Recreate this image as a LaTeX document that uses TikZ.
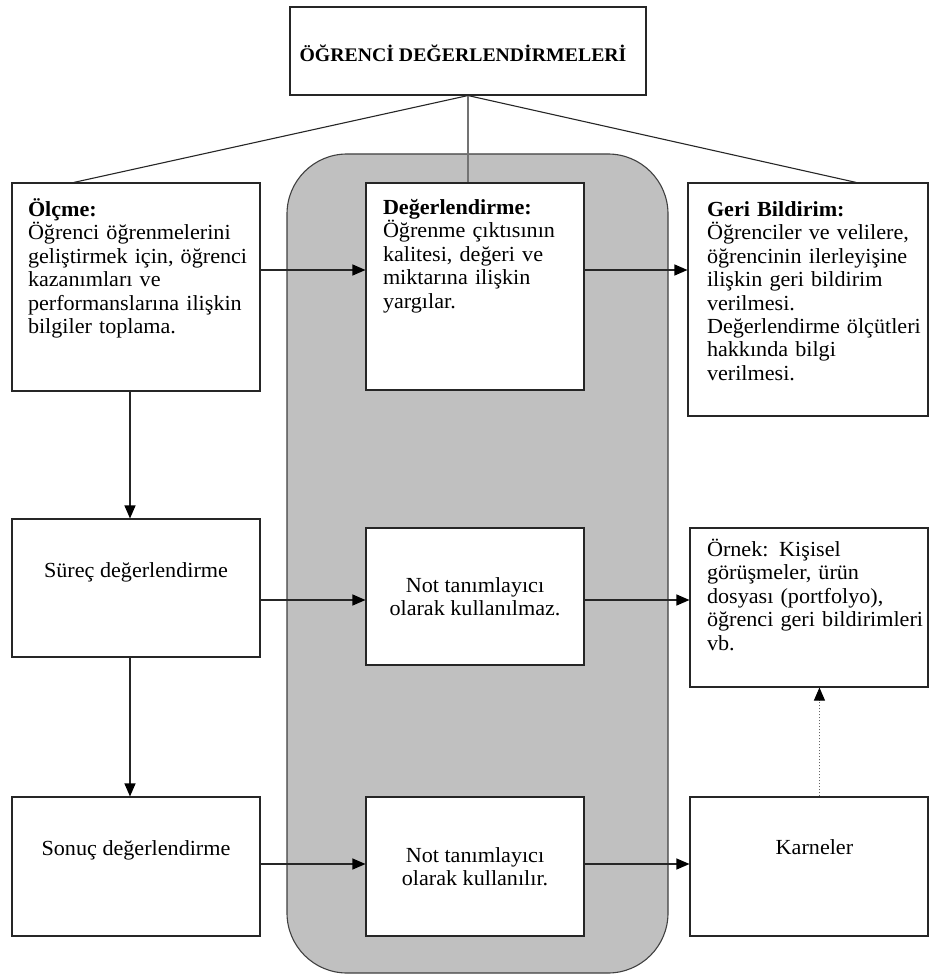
\documentclass[tikz,border=0pt]{standalone}
\usepackage{fontspec}
\setmainfont{Liberation Serif}[FakeStretch=1.03]
\usetikzlibrary{arrows.meta,calc}
\definecolor{panelgray}{HTML}{C0C0C0}
\begin{document}
\begin{tikzpicture}[x=1pt,y=-1pt,line width=1.1pt,
  font=\fontsize{21.5}{23.4}\selectfont,
  box/.style 2 args={draw=black!85,fill=white,inner sep=0pt,minimum width=#1,minimum height=#2},
  txt/.style={inner sep=0pt,text width=228pt,align=left,anchor=base west},
  conn/.style={draw=black!85,-{Triangle[length=13pt,width=11pt,black]}}]
  \useasboundingbox (0,0) rectangle (930,976);
  % grey panel behind the middle column
  \draw[fill=panelgray,draw=black!75,rounded corners=60pt] (287,154) rectangle (668,973);
  % boxes
  \node[box={356}{88}] (title) at (468,51) {};
  \node[box={248}{208}] (olcme) at (136,287) {};
  \node[box={218}{207}] (deg) at (475,286.5) {};
  \node[box={240}{233}] (geri) at (808,299.5) {};
  \node[box={248}{138}] (surec) at (136,588) {};
  \node[box={218}{137},align=center] (notmaz) at (475,596.5) {Not tanımlayıcı\\olarak kullanılmaz.};
  \node[box={238}{159}] (ornek) at (809,607.5) {};
  \node[box={248}{139}] (sonuc) at (136,866.5) {};
  \node[box={218}{139},align=center] (notlir) at (475,866.5) {Not tanımlayıcı\\olarak kullanılır.};
  \node[box={238}{139}] (karne) at (809,866.5) {};
  % texts
  \node[anchor=base,font=\fontsize{19.2}{22}\selectfont\bfseries] (titletxt) at ($(title.north)+(-5,55)$) {ÖĞRENCİ DEĞERLENDİRMELERİ};
  \node[txt] (olcmetxt) at ($(olcme.north west)+(16,34)$)
    {\textbf{Ölçme:}\\Öğrenci öğrenmelerini\\geliştirmek için, öğrenci\\kazanımları ve\\performanslarına ilişkin\\bilgiler toplama.};
  \node[txt] (degtxt) at ($(deg.north west)+(17,32)$)
    {\textbf{Değerlendirme:}\\Öğrenme çıktısının\\kalitesi, değeri ve\\miktarına ilişkin\\yargılar.};
  \node[txt] (geritxt) at ($(geri.north west)+(19,34)$)
    {\textbf{Geri Bildirim:}\\Öğrenciler ve velilere,\\öğrencinin ilerleyişine\\ilişkin geri bildirim\\verilmesi.\\Değerlendirme ölçütleri\\hakkında bilgi\\verilmesi.};
  \node[txt] (ornektxt) at ($(ornek.north west)+(17,29)$)
    {Örnek: Kişisel\\görüşmeler, ürün\\dosyası (portfolyo),\\öğrenci geri bildirimleri\\vb.};
  \node[anchor=base] (surectxt) at ($(surec.north)+(0,59)$) {Süreç değerlendirme};
  \node[anchor=base] (sonuctxt) at ($(sonuc.north)+(0,59)$) {Sonuç değerlendirme};
  \node[anchor=base] (karnetxt) at ($(karne.north west)+(125,58)$) {Karneler};
  % lines from the title
  \draw[black!85] (title.south) -- ($(olcme.north west)!0.25!(olcme.north east)$);
  \draw[black!85] (title.south) -- ($(geri.north west)!0.7!(geri.north east)$);
  \draw[black!55] (title.south) -- (title.south |- deg.north);
  % arrows between the columns
  \draw[conn] (olcme.east |- 0,270) -- (deg.west |- 0,270);
  \draw[conn] (deg.east |- 0,270) -- (geri.west |- 0,270);
  \draw[conn] (surec.east |- 0,600) -- (notmaz.west |- 0,600);
  \draw[conn] (notmaz.east |- 0,600) -- (ornek.west |- 0,600);
  \draw[conn] (sonuc.east |- 0,864) -- (notlir.west |- 0,864);
  \draw[conn] (notlir.east |- 0,864) -- (karne.west |- 0,864);
  % arrows down the left column
  \draw[conn] ($(olcme.south)+(-6,0)$) -- ($(surec.north)+(-6,0)$);
  \draw[conn] ($(surec.south)+(-6,0)$) -- ($(sonuc.north)+(-6,0)$);
  % dotted link from Karneler
  \draw[conn,draw=black!60,dotted,line width=1pt] ($(karne.north west)+(130,0)$) -- ($(ornek.south west)+(130,0)$);
\end{tikzpicture}
\end{document}
